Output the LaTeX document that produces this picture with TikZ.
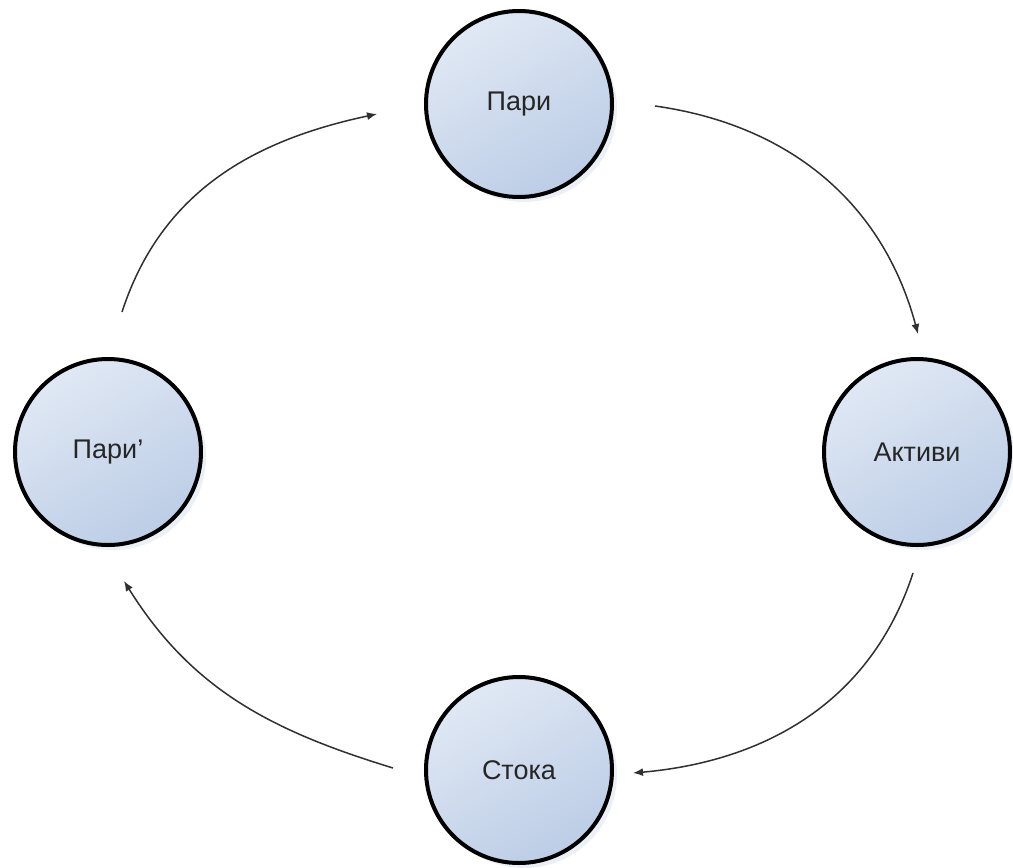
\documentclass[tikz,border=0pt]{standalone}
\usepackage{fontspec}
\setmainfont{Liberation Sans}
\usetikzlibrary{arrows.meta,shadows}
\definecolor{circtop}{HTML}{E0E8F4}
\definecolor{circbot}{HTML}{BCCDE6}
\definecolor{arrowcol}{HTML}{303030}
\tikzset{
  statenode/.style={circle, minimum size=186pt, inner sep=0pt, line width=4pt, draw=black,
    shading=axis, top color=circtop, bottom color=circbot, shading angle=30,
    drop shadow={shadow xshift=5pt, shadow yshift=-5pt, fill=circbot!50!white, opacity=0.6},
    font=\fontsize{27}{32}\selectfont, text=black!85},
  flow/.style={line width=1.5pt, draw=arrowcol, -{Latex[length=10pt,width=8pt]}}
}
\begin{document}
\begin{tikzpicture}[x=1pt,y=-1pt]
\useasboundingbox (0,0) rectangle (1013,868);
\node[statenode] (pari) at (519,104) {Пари};
\node[statenode] (aktivi) at (917,452) {Активи};
\node[statenode] (stoka) at (519,770) {Стока};
\node[statenode] (pari2) at (108,452) {Пари’};
\coordinate (a1s) at (655,106);
\coordinate (a1e) at (918,334);
\coordinate (a2s) at (913,573);
\coordinate (a2e) at (633,773);
\coordinate (a3s) at (393,768);
\coordinate (a3e) at (124,581);
\coordinate (a4s) at (122,312);
\coordinate (a4e) at (377,114);
\draw[flow] (a1s) to[out=-8,in=105] (a1e);
\draw[flow] (a2s) to[out=-108,in=5] (a2e);
\draw[flow] (a3s) to[out=163,in=-58] (a3e);
\draw[flow] (a4s) to[out=72,in=192] (a4e);
\end{tikzpicture}
\end{document}
